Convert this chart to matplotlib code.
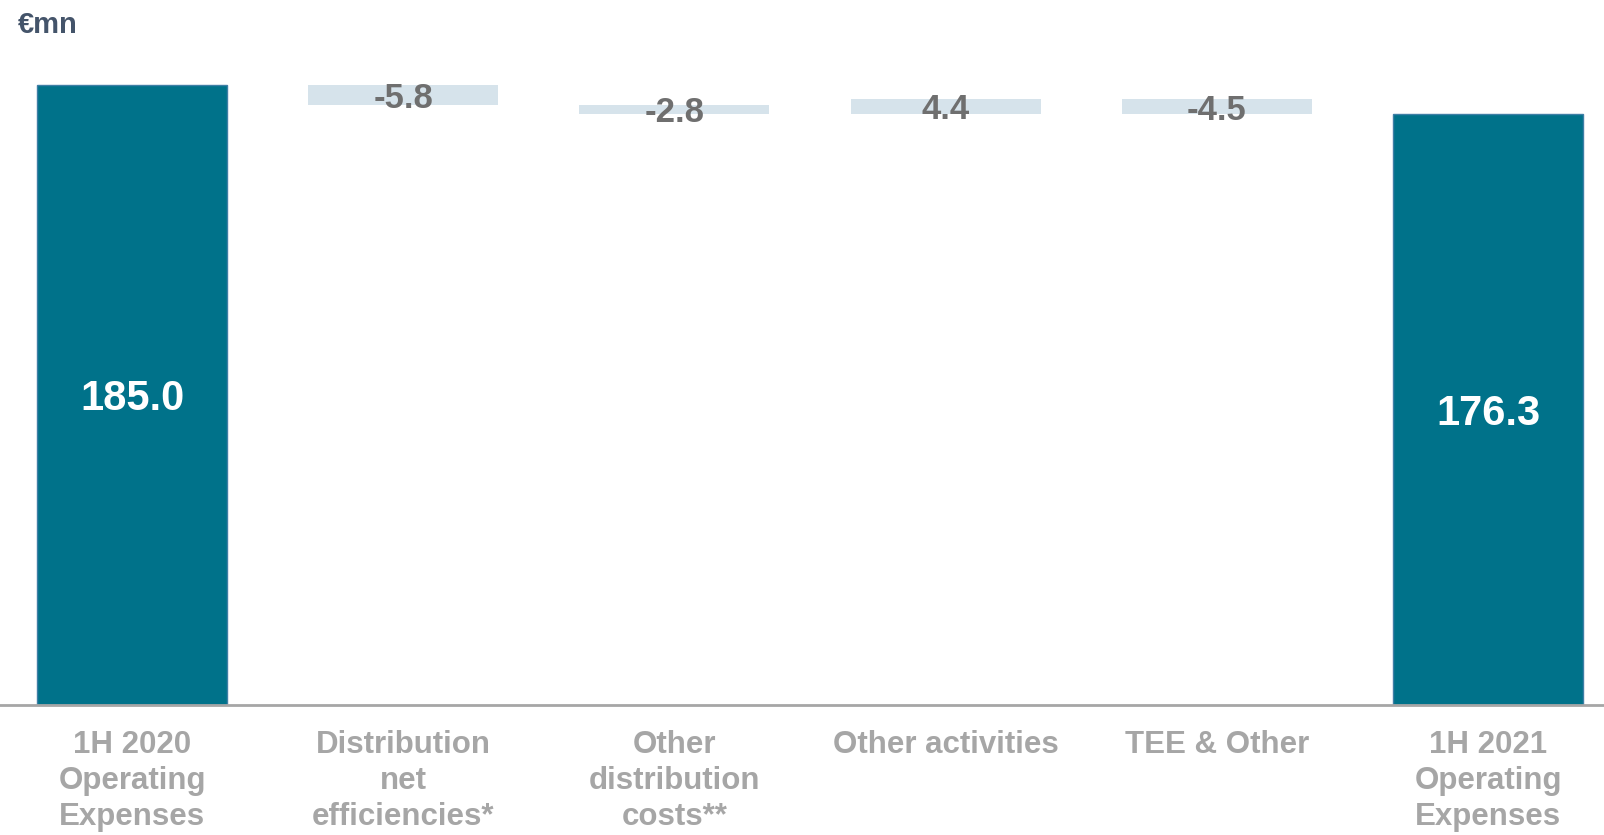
import matplotlib.pyplot as plt

# opex bridge, 1H 2020 -> 1H 2021 (EUR mn)
categories = ['1H 2020\nOperating\nExpenses', 'Distribution\nnet\nefficiencies*',
              'Other\ndistribution\ncosts**', 'Other activities', 'TEE & Other',
              '1H 2021\nOperating\nExpenses']
start_total = 185.0
deltas = [-5.8, -2.8, 4.4, -4.5]
end_total = 176.3

TOTAL_COLOR = '#00728a'
DELTA_COLOR = '#d6e3eb'
FONT = ['Liberation Sans', 'DejaVu Sans']

fig = plt.figure(figsize=(16.04, 8.35), dpi=100)
ax = fig.add_axes([0, 130 / 835, 1, 705 / 835])

# running totals for floating bars
bottoms, heights = [], []
level = start_total
for d in deltas:
    new = level + d
    bottoms.append(min(level, new))
    heights.append(abs(d))
    level = new

w = 0.7
ax.bar(0, start_total, width=w, color=TOTAL_COLOR, edgecolor='#3f7fa6', linewidth=1)
ax.bar(5, end_total, width=w, color=TOTAL_COLOR, edgecolor='#3f7fa6', linewidth=1)
ax.bar(range(1, 5), heights, bottom=bottoms, width=w, color=DELTA_COLOR)

for x, v in [(0, start_total), (5, end_total)]:
    ax.annotate(f'{v:.1f}', (x, v / 2), xytext=(0, -3), textcoords='offset points',
                ha='center', va='center', color='white',
                fontsize=30, fontweight='bold', family=FONT)

for i, d in enumerate(deltas):
    ax.annotate(f'{d:.1f}', (i + 1, bottoms[i] + heights[i] / 2), xytext=(0, -2.5),
                textcoords='offset points', ha='center', va='center',
                color='#6f6f6f', fontsize=25, fontweight='bold', family=FONT)

ax.set_xlim(-132 / 271.2, 1472 / 271.2)
ax.set_ylim(0, 705 / 3.351)
ax.set_xticks(range(len(categories)))
ax.set_xticklabels(categories, fontsize=22.5, fontweight='bold', color='#a6a6a6',
                   family=FONT, linespacing=1.27)
ax.tick_params(axis='x', length=0, pad=18)
ax.set_yticks([])
for s in ['top', 'right', 'left']:
    ax.spines[s].set_visible(False)
ax.spines['bottom'].set_color('#a6a6a6')
ax.spines['bottom'].set_linewidth(2)

fig.text(18 / 1604, 1 - 25 / 835, '€mn', ha='left', va='center', fontsize=21,
         fontweight='bold', color='#44546a', family=FONT)

fig.savefig('out.png', dpi=100)
